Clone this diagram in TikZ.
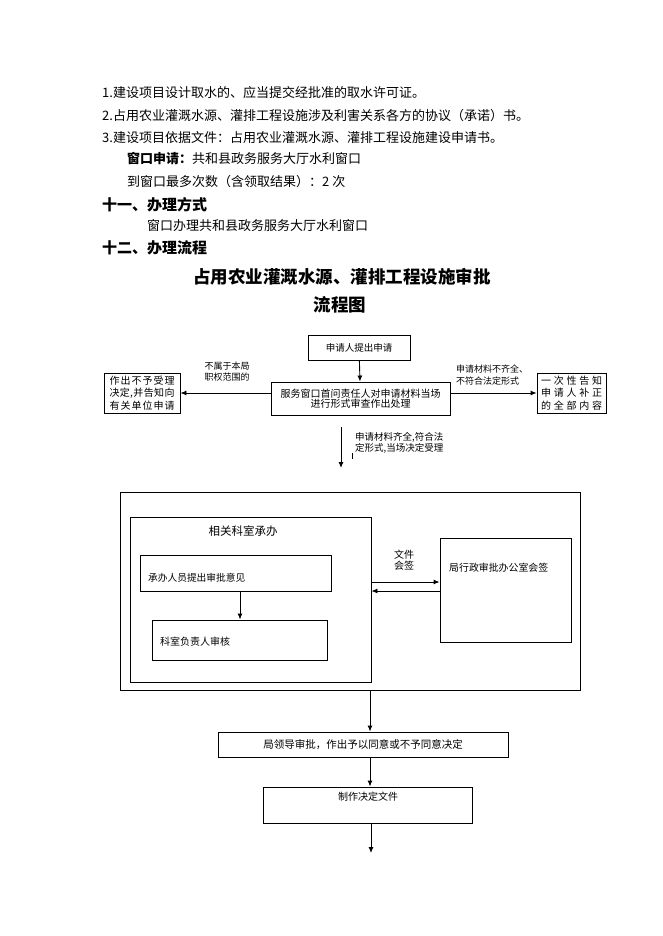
\documentclass[tikz,border=0pt]{standalone}
\usepackage{fontspec}
\setmainfont{Noto Sans CJK SC}
\usetikzlibrary{arrows.meta,calc}
\newcommand\spr[2]{\makebox[#1][s]{#2}}
\begin{document}
\begin{tikzpicture}[x=1pt,y=-1pt,
  txt/.style={inner sep=0pt,anchor=west,font=\fontsize{13}{15}\selectfont},
  head/.style={inner sep=0pt,anchor=west,font=\fontsize{15}{17}\selectfont\bfseries},
  box/.style={draw,line width=0.9pt,inner sep=0pt,align=center},
  lbl/.style={inner sep=0pt,align=left,font=\fontsize{9}{11.5}\selectfont},
  arr/.style={-{Latex[length=6pt,width=5pt]},line width=0.9pt}]
\useasboundingbox (0,0) rectangle (662,936);
% top text
\node[txt] (t1) at (102,93) {1.建设项目设计取水的、应当提交经批准的取水许可证。};
\node[txt] (t2) at (102,116) {2.占用农业灌溉水源、灌排工程设施涉及利害关系各方的协议（承诺）书。};
\node[txt] (t3) at (102,138) {3.建设项目依据文件：占用农业灌溉水源、灌排工程设施建设申请书。};
\node[txt] (t4) at (127,159) {\textbf{窗口申请：}共和县政务服务大厅水利窗口};
\node[txt] (t5) at (127,182) {到窗口最多次数（含领取结果）：2 次};
\node[head] (h1) at (102,205) {十一、办理方式};
\node[txt] (t6) at (147,226) {窗口办理共和县政务服务大厅水利窗口};
\node[head] (h2) at (102,248) {十二、办理流程};
\node[inner sep=0pt,font=\fontsize{17.5}{20}\selectfont\bfseries] (title) at (342,277) {占用农业灌溉水源、灌排工程设施审批};
\node[inner sep=0pt,font=\fontsize{17.5}{20}\selectfont\bfseries] (title2) at (340,305) {流程图};
% flow chart top part
\node[box,minimum width=102pt,minimum height=25pt,font=\fontsize{9.5}{11}\selectfont] (req) at (359,347.5) {申请人提出申请};
\node[box,minimum width=179pt,minimum height=33pt,font=\fontsize{10}{10.5}\selectfont] (main) at (360.5,398.5) {服务窗口首问责任人对申请材料当场\\进行形式审查作出处理};
\node[box,minimum width=76pt,minimum height=40pt,font=\fontsize{10}{12.3}\selectfont] (left) at (142,393)
  {\spr{65pt}{作\hfil 出\hfil 不\hfil 予\hfil 受\hfil 理}\\\spr{65pt}{决\hfil 定\hfil ,\hfil 并\hfil 告\hfil 知\hfil 向}\\\spr{65pt}{有\hfil 关\hfil 单\hfil 位\hfil 申\hfil 请}};
\node[box,minimum width=69pt,minimum height=40pt,font=\fontsize{10}{12.3}\selectfont] (right) at (571.5,393)
  {\spr{61pt}{一\hfil 次\hfil 性\hfil 告\hfil 知}\\\spr{61pt}{申\hfil 请\hfil 人\hfil 补\hfil 正}\\\spr{61pt}{的\hfil 全\hfil 部\hfil 内\hfil 容}};
\draw[arr] (req) -- (main);
\draw[arr] (left.east -| main.west) -- (left.east);
\draw[arr] (right.west -| main.east) -- (right.west);
\node[lbl,align=center,anchor=center] (lab1) at (227,371.5) {不属于本局\\职权范围的};
\node[lbl,anchor=west] (lab2) at (456,375) {申请材料不齐全、\\不符合法定形式};
\coordinate (d1) at (341,427);
\coordinate (d2) at (341,468);
\draw[arr] (d1) -- (d2);
\node[lbl,anchor=west,font=\fontsize{9.5}{11.5}\selectfont] (lab3) at (355,443) {申请材料齐全,符合法\\定形式,当场决定受理};
\coordinate (tk1) at (352,453);
\coordinate (tk2) at (352,459);
\draw[line width=0.7pt] (tk1) -- (tk2);
% middle block
\coordinate (outerA) at (120,492);
\coordinate (outerB) at (580,690);
\draw[line width=0.9pt] (outerA) rectangle (outerB);
\node[box,minimum width=241pt,minimum height=165pt] (inner) at (250.5,599.5) {};
\node[inner sep=0pt,font=\fontsize{11.5}{13}\selectfont] (ititle) at (243,531) {相关科室承办};
\node[box,minimum width=191pt,minimum height=36pt] (b1) at (235.5,573) {};
\node[inner sep=0pt,anchor=west,font=\fontsize{9.7}{11}\selectfont] (b1t) at (148,578) {承办人员提出审批意见};
\node[box,minimum width=175pt,minimum height=40pt] (b2) at (239.5,640) {};
\node[inner sep=0pt,anchor=west,font=\fontsize{10}{11}\selectfont] (b2t) at (160,642) {科室负责人审核};
\draw[arr] (b1.south -| 240,0) -- (b2.north -| 240,0);
\node[box,minimum width=131pt,minimum height=104pt] (rb) at (505.5,590) {};
\node[inner sep=0pt,anchor=west,font=\fontsize{9.9}{11}\selectfont] (rbt) at (449,568) {局行政审批办公室会签};
\draw[arr] ($(rb.west -| inner.east)+(0,-8)$) -- ($(rb.west)+(0,-8)$);
\draw[arr] ($(rb.west)+(0,1)$) -- ($(rb.west -| inner.east)+(0,1)$);
\node[inner sep=0pt,align=center,font=\fontsize{10}{10.5}\selectfont] (wj) at (404,560) {文件\\会签};
% bottom part
\node[box,minimum width=290pt,minimum height=25pt,font=\fontsize{10.5}{12}\selectfont] (lead) at (363,744.5) {局领导审批，作出予以同意或不予同意决定};
\node[box,minimum width=209pt,minimum height=36pt] (mk) at (367.5,805) {};
\node[inner sep=0pt,font=\fontsize{10}{11}\selectfont] (mkt) at (368,797) {制作决定文件};
\coordinate (ob) at (370,690);
\draw[arr] (ob) -- (ob |- lead.north);
\draw[arr] (lead.south -| 370,0) -- (mk.north -| 370,0);
\coordinate (endp) at (371,853);
\draw[arr] (mk.south -| endp) -- (endp);
\end{tikzpicture}
\end{document}
